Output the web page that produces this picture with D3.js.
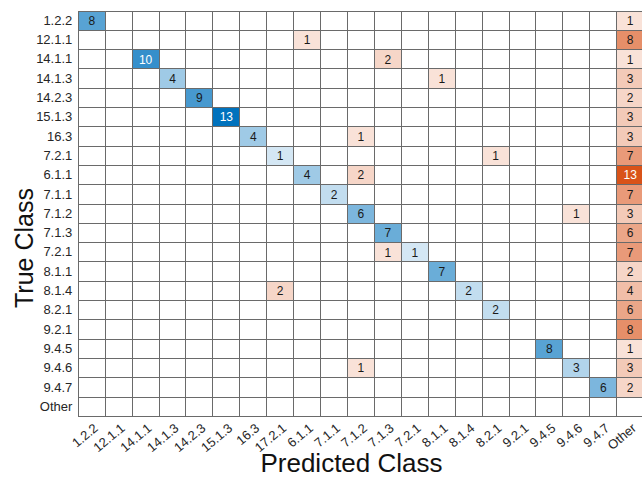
<!DOCTYPE html>
<html><head><meta charset="utf-8">
<script src="https://cdn.jsdelivr.net/npm/d3@7"></script>
<style>
html,body{margin:0;padding:0;background:#fff;}
svg{display:block;}
text{font-family:"Liberation Sans",Arial,Helvetica,sans-serif;}
</style></head>
<body>
<svg id="chart" width="642" height="479"></svg>
<script>
const trueClasses = ["1.2.2","12.1.1","14.1.1","14.1.3","14.2.3","15.1.3","16.3","7.2.1","6.1.1","7.1.1","7.1.2","7.1.3","7.2.1","8.1.1","8.1.4","8.2.1","9.2.1","9.4.5","9.4.6","9.4.7","Other"];
const predictedClasses = ["1.2.2","12.1.1","14.1.1","14.1.3","14.2.3","15.1.3","16.3","17.2.1","6.1.1","7.1.1","7.1.2","7.1.3","7.2.1","8.1.1","8.1.4","8.2.1","9.2.1","9.4.5","9.4.6","9.4.7","Other"];
// [true row index, predicted column index, count]
const counts = [
  [0,0,8],[0,20,1],
  [1,8,1],[1,20,8],
  [2,2,10],[2,11,2],[2,20,1],
  [3,3,4],[3,13,1],[3,20,3],
  [4,4,9],[4,20,2],
  [5,5,13],[5,20,3],
  [6,6,4],[6,10,1],[6,20,3],
  [7,7,1],[7,15,1],[7,20,7],
  [8,8,4],[8,10,2],[8,20,13],
  [9,9,2],[9,20,7],
  [10,10,6],[10,18,1],[10,20,3],
  [11,11,7],[11,20,6],
  [12,11,1],[12,12,1],[12,20,7],
  [13,13,7],[13,20,2],
  [14,7,2],[14,14,2],[14,20,4],
  [15,15,2],[15,20,6],
  [16,20,8],
  [17,17,8],[17,20,1],
  [18,10,1],[18,18,3],[18,20,3],
  [19,19,6],[19,20,2]
];
const xTitle = "Predicted Class";
const yTitle = "True Class";

(function(){
const svg = d3.select("#chart");
const gl = 78.3, gt = 11, cw = 26.92, rh = 19.3;
const nC = predictedClasses.length, nR = trueClasses.length;

const x = d3.scaleBand().domain(d3.range(nC)).range([gl, gl + cw*nC]).padding(0);
const y = d3.scaleBand().domain(d3.range(nR)).range([gt, gt + rh*nR]).padding(0);

const maxV = d3.max(counts, d => d[2]);
const t = v => 0.1 + 0.9 * v / maxV;
const blue = d3.interpolateRgb("#ffffff", "#0072bd");
const orange = d3.interpolateRgb("#ffffff", "#d95319");

svg.append("g").selectAll("rect").data(counts).join("rect")
  .attr("x", d => x(d[1])).attr("y", d => y(d[0]))
  .attr("width", x.bandwidth()).attr("height", y.bandwidth())
  .attr("fill", d => d[0] === d[1] ? blue(t(d[2])) : orange(t(d[2])));

const grid = svg.append("g").attr("stroke", "#6a6a6a").attr("stroke-width", 1).attr("shape-rendering","crispEdges");
for (let i = 0; i <= nC; i++) {
  const xx = i < nC ? x(i) : x(nC-1) + x.bandwidth();
  grid.append("line").attr("x1", xx).attr("x2", xx).attr("y1", gt).attr("y2", gt + rh*nR);
}
for (let j = 0; j <= nR; j++) {
  const yy = j < nR ? y(j) : y(nR-1) + y.bandwidth();
  grid.append("line").attr("x1", gl).attr("x2", gl + cw*nC).attr("y1", yy).attr("y2", yy);
}

svg.append("g").selectAll("text").data(counts).join("text")
  .attr("x", d => x(d[1]) + x.bandwidth()/2)
  .attr("y", d => y(d[0]) + y.bandwidth()/2)
  .attr("dy", "0.36em")
  .attr("text-anchor", "middle")
  .attr("font-size", 12)
  .attr("fill", d => t(d[2]) > 0.75 ? "#ffffff" : "#1a1a1a")
  .text(d => d[2]);

const yAxis = svg.append("g").attr("transform", `translate(${gl},0)`)
  .call(d3.axisLeft(y).tickSize(0).tickPadding(6).tickFormat(i => trueClasses[i]));
yAxis.select(".domain").remove();
yAxis.selectAll("text").attr("font-size", 13).attr("fill", "#262626")
  .style("font-family", '"Liberation Sans",Arial,sans-serif');

const xAxis = svg.append("g").attr("transform", `translate(0,${gt + rh*nR})`)
  .call(d3.axisBottom(x).tickSize(0).tickPadding(0).tickFormat(i => predictedClasses[i]));
xAxis.select(".domain").remove();
xAxis.selectAll(".tick text")
  .attr("font-size", 13).attr("fill", "#262626")
  .style("font-family", '"Liberation Sans",Arial,sans-serif')
  .attr("text-anchor", "end")
  .attr("x", 0).attr("y", 0).attr("dy", "0.72em")
  .attr("transform", "translate(1,6) rotate(-40)");

svg.append("text").attr("x", 351.5).attr("y", 472).attr("text-anchor", "middle")
  .attr("font-size", 26).attr("fill", "#111").text(xTitle);
svg.append("text").attr("transform", "translate(33,248) rotate(-90)").attr("text-anchor", "middle")
  .attr("font-size", 25).attr("fill", "#111").text(yTitle);
})();
</script>
</body></html>
